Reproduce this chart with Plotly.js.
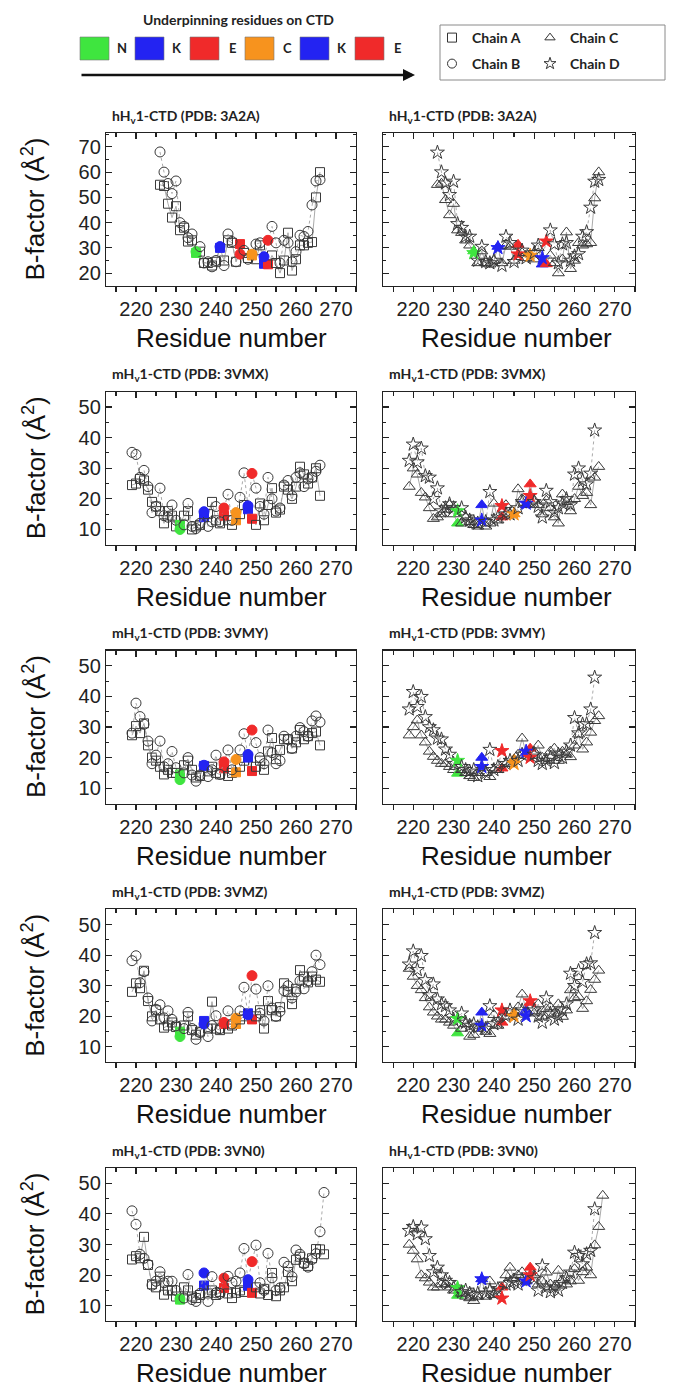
<!DOCTYPE html>
<html><head><meta charset="utf-8">
<script src="https://cdn.plot.ly/plotly-3.0.1.min.js"></script>
<style>html,body{margin:0;padding:0;background:#fff}</style>
</head><body><div id="chart" style="width:681px;height:1387px"></div>
<script>
// ---------- residue numbers ----------
const resH = [226,227,228,229,230,231,232,233,234,235,236,237,238,239,240,241,242,243,244,245,246,247,248,249,250,251,252,253,254,255,256,257,258,259,260,261,262,263,264,265,266];
const resM47 = [219,220,221,222,223,224,225,226,227,228,229,230,231,232,233,234,235,236,237,238,239,240,241,242,243,244,245,246,247,248,249,250,251,252,253,254,255,256,257,258,259,260,261,262,263,264,265];
const resM48 = [219,220,221,222,223,224,225,226,227,228,229,230,231,232,233,234,235,236,237,238,239,240,241,242,243,244,245,246,247,248,249,250,251,252,253,254,255,256,257,258,259,260,261,262,263,264,265,266];
const resM49 = [219,220,221,222,223,224,225,226,227,228,229,230,231,232,233,234,235,236,237,238,239,240,241,242,243,244,245,246,247,248,249,250,251,252,253,254,255,256,257,258,259,260,261,262,263,264,265,266,267];

// ---------- underpinning residues (N K E C K E) ----------
const keyLetters = ['N','K','E','C','K','E'];
const keyColors = ['#3fe53f','#2323f2','#f02a2a','#f7931e','#2323f2','#f02a2a'];
const keyResHuman = [235,241,246,249,252,253];
const keyResMouse = [231,237,242,245,248,249];
const keyRes3VN0 = [231,237,242,248,249];
const keyCol3VN0 = ['#3fe53f','#2323f2','#f02a2a','#2323f2','#f02a2a'];

// ---------- B-factors ----------
const A_3A2A = [55,54.5,47.5,42,46.5,37,38,32.5,33,28,28.5,24,24,23,24.5,30,25,33,32,24.5,31.5,28,26,27,25.5,31,23.7,23.5,27,24,20,25,36,21,25.5,31,31,32,32.3,50,60];
const B_3A2A = [68,60,55.5,51.5,56.5,40,38.5,34,35.5,28.5,30.5,24,24.5,22.5,25,30.5,23,35.5,32.5,24.5,27.5,29,25.5,27.5,31.5,32,26.5,33,38.5,32,24,33,32,24.5,28.5,35,34.5,36.5,47,56.5,57];
const C_3A2A = [55,55.5,49,43,47.5,37,36,33,31,28.7,24,28.7,24,23.5,25,30.5,24,31,30.5,25,31.3,28,26,27.5,25.5,30,23.5,23.6,27,24,20,25.5,36.2,21.7,25,32,31,31.5,32,49.7,60];
const D_3A2A = [67.8,60,55.6,51,56.3,39.5,38,34.5,34.5,28,25,30.5,24.5,24,25,30,23,34.5,32,24.5,27.5,29,26,27,28,31,26,32.6,37,31.5,24,31.5,32,25,26.7,27.6,34.5,36.3,46,56.3,57];

const A_3VMX = [24.5,25,26.5,26,23,19,17.5,16,12,16,14.5,11,11.5,14.5,16,10,11,11.5,14,15,19,13,12,14.5,13,11.5,13,15,18,16.6,13.5,11.5,18.5,13,18,23.5,15.5,16.5,24,23,20,24,30.5,28,25,27,30,21];
const B_3VMX = [35.2,34.5,27,29.3,24,15.5,17.5,23.5,14.5,14,18,13,10,11.5,18.5,11,10.3,12,15.8,11,12.5,17.5,12.5,17,21.5,13,15.5,20.5,28.5,17.7,28.3,23.5,17.5,15,27,20,16,17,24.5,26,21,27,28.5,24,26.5,27,29,31];
const C_3VMX = [24,30,28,22,20.5,17,13.5,14,15,16.5,18,15,12,12,14,12.5,11.5,11,18,11,12,18.5,13,14,18,15,15,23.2,20,18,24.8,19.5,18,15,19.5,17,14,12,21.5,19,16,20,24,21,22,18,27,30.5];
const D_3VMX = [32.5,37.8,32,36.5,27.5,27,20,23.5,16,17,18.3,17,16,17,14,13,12.5,12,13,12.5,22.3,13,14,17.7,15,15,15,17,19,18.5,21,19,17.5,14,22.7,19,15.6,17,18.5,20,18,28,30,26,24.8,28.3,42.4];

const A_3VMY = [27.3,30.3,28,31.2,24,20,19,17,14.5,16,15,15,14.5,17.5,19,16,13.5,14,17.3,15.5,17,15,14.5,16.5,14,15,15.2,17,19,20,15.6,17,19,16,22,26.4,19.5,22.5,26,26,23,25,29,26,27,28,28.5,24];
const B_3VMY = [28,37.8,33.4,30.9,25.4,18,20.8,25.4,17,18,22,16.7,12.8,15,20,14.3,12.3,14.3,17.5,13.8,16,20.8,14.5,18.6,22.5,16,19.4,22.5,27.8,21,29,24.9,20,18,29,21.6,18,19,27,26,23,27,29.8,28.5,27,32,33.6,31.6];
const C_3VMY = [27.3,30,32.2,27.3,25,22,20.3,19,18,18,17,16,14.8,16,15,14,13.4,15,20,15,13.7,16,16,16.5,18,18,19.5,21,26.3,21.5,23,22,24,20,19,22,23,19,22,21,20.2,24,27.6,22.7,25,28.2,32,33.6];
const D_3VMY = [35.8,41.5,36.6,39.9,33.3,30,29,26.3,26,22.7,21,18,19,17,16,15.5,16,14,17,15,22.6,16,17,22.2,18,19,18,19,21,22,20,21,19,18,19,20,18.3,21,20,22,24,33,28,30.9,31,35.8,46.2];

const A_3VMZ = [28,30.8,29.2,34.9,25,20,22,19,16.3,17,18,16.5,15,17,20,15.5,14,15,18.5,16,24.8,16,15.5,17.5,16,17,17.5,19,20,21,19,20,22,16,25,22,20,23,30.8,28,24,29,35.1,33,31.1,33,32,31.3];
const B_3VMZ = [38.2,39.8,31,34.6,26,18.5,22.3,23.8,19.5,21.8,19,16.9,13.4,16,21.3,16,12.5,14.7,17.5,13.4,17,20.2,16,18,21.8,17.5,19.4,21.8,29.5,20.5,33.3,28.9,21,18.5,30,22.7,20,21.6,28.4,30,26,28,31.6,29,31.6,34.6,40,36.9];
const C_3VMZ = [35.6,33,30,28.6,26,23,21.3,20,19,19,18,17,14.5,16,17.5,13.4,14,16,21.3,15,14.3,20.5,17,18,20,21,21,23,27.2,22,24.5,21,24,20,22.4,23,21,24,19.9,22,28.6,26,26.4,22.5,25,28.7,32,35];
const D_3VMZ = [37,41.3,35.2,39.8,31.9,27,30.5,25.6,24,23.4,22,19,19.2,21,18,17,17.5,16.5,17,16,23.4,17.5,18,22,20,22,20,19,22,20.1,25,22,20,18,26,21,19,20,22,24,34,30,34.9,31.3,37.1,37.4,47.3];

const A_3VN0 = [25.1,26.2,25.5,32.5,23.3,17,16,19.5,13.6,15,15,13,12,16,15,13,12.5,13.5,16.6,14,15,13.5,14.5,15.8,14,12.5,14.2,15,14.5,16.5,14.2,16,14,15.5,13.5,20.7,13.1,15,16,21,18,25,26,24,23,25.5,28.5,28.4,26.8];
const B_3VN0 = [41,36.6,26.8,25.5,23.5,16.7,18,21.1,17.5,18,18,15,12.2,12.5,20.2,12,11.4,14,20.7,11.4,19.5,14.2,14,19,19.6,17.5,18,20.7,28.7,18.5,24.4,29.8,17.5,15,27.1,19.1,15,15.8,24.2,22.9,19.5,28.2,26.8,23.7,22.6,25.1,27,34.2,47];
const C_3VN0 = [30,28,25.2,20,19,17.6,16,16,17,17,16,15,13.3,14,13,12.5,11.6,13,18.7,13,18,13.5,14,16,20,22.5,19,20,21,18,22.5,20,17,18,20.9,17,16,21.5,18.5,17,18,22,18.2,21,22.5,20,29.8,35.8,46];
const D_3VN0 = [34.5,35.8,33.4,35.6,31.8,26.3,21,22.5,20,18.2,17.5,16,15.8,14.5,15,14,13.5,14,18.7,14,15,14,15.5,12.4,17,17.5,18,17,18.5,18,20,19,15,23,16,14.5,16,15,17.5,19,20.9,27.4,26.3,23.6,26.9,28,41.6];

// ---------- text ----------
const panelTitles = [
  'hH<sub>v</sub>1-CTD (PDB: 3A2A)','hH<sub>v</sub>1-CTD (PDB: 3A2A)',
  'mH<sub>v</sub>1-CTD (PDB: 3VMX)','mH<sub>v</sub>1-CTD (PDB: 3VMX)',
  'mH<sub>v</sub>1-CTD (PDB: 3VMY)','mH<sub>v</sub>1-CTD (PDB: 3VMY)',
  'mH<sub>v</sub>1-CTD (PDB: 3VMZ)','mH<sub>v</sub>1-CTD (PDB: 3VMZ)',
  'mH<sub>v</sub>1-CTD (PDB: 3VN0)','hH<sub>v</sub>1-CTD (PDB: 3VN0)'];
const chainNames = ['Chain A','Chain B','Chain C','Chain D'];
const xTitle = 'Residue number';
const yTitle = 'B-factor (Å<sup>2</sup>)';
const headerTitle = 'Underpinning residues on CTD';
const xTickVals = [220,230,240,250,260,270];

// ---------- build ----------
const W = 681, H = 1387;
const px = v => v / W, py = v => 1 - v / H;
const colX = [[106,356],[383,635]];
const rowTop = r => 133 + 258.75 * r;
const FH = 153;

const panels = [
  {t1:[resH,A_3A2A,0],t2:[resH,B_3A2A,1],kr:keyResHuman,kc:keyColors},
  {t1:[resH,C_3A2A,2],t2:[resH,D_3A2A,3],kr:keyResHuman,kc:keyColors},
  {t1:[resM48,A_3VMX,0],t2:[resM48,B_3VMX,1],kr:keyResMouse,kc:keyColors},
  {t1:[resM48,C_3VMX,2],t2:[resM47,D_3VMX,3],kr:keyResMouse,kc:keyColors},
  {t1:[resM48,A_3VMY,0],t2:[resM48,B_3VMY,1],kr:keyResMouse,kc:keyColors},
  {t1:[resM48,C_3VMY,2],t2:[resM47,D_3VMY,3],kr:keyResMouse,kc:keyColors},
  {t1:[resM48,A_3VMZ,0],t2:[resM48,B_3VMZ,1],kr:keyResMouse,kc:keyColors},
  {t1:[resM48,C_3VMZ,2],t2:[resM47,D_3VMZ,3],kr:keyResMouse,kc:keyColors},
  {t1:[resM49,A_3VN0,0],t2:[resM49,B_3VN0,1],kr:keyRes3VN0,kc:keyCol3VN0},
  {t1:[resM49,C_3VN0,2],t2:[resM47,D_3VN0,3],kr:keyRes3VN0,kc:keyCol3VN0}
];
const symbols = ['square','circle','triangle-up','star'];
const sizes = [9,10,10.5,10.5];
const dashes = ['solid','dot','solid','dot'];

const data = [];
const layout = {
  width: W, height: H, margin:{l:0,r:0,t:0,b:0},
  paper_bgcolor:'#fff', plot_bgcolor:'#fff',
  font:{family:'Liberation Sans, Arial, sans-serif', color:'#222'},
  showlegend: true, shapes: [], annotations: []
};

function mkTrace(spec, kr, kc, ax, ay) {
  const [xs, ys, ci] = spec;
  const fill = xs.map(r => { const k = kr.indexOf(r); return k >= 0 ? kc[k] : 'rgba(255,255,255,0)'; });
  const edge = xs.map(r => { const k = kr.indexOf(r); return k >= 0 ? kc[k] : '#3a3a3a'; });
  return {type:'scatter', mode:'lines+markers', x: xs, y: ys, xaxis: ax, yaxis: ay,
    showlegend:false, hoverinfo:'x+y',
    line:{color:'#a0a0a0', width:0.9, dash:dashes[ci]},
    marker:{symbol:symbols[ci], size:sizes[ci], color:fill, line:{color:edge, width:1}}};
}

panels.forEach((p, i) => {
  const r = Math.floor(i/2), c = i % 2;
  const n = i + 1;
  const xid = 'x' + n, yid = 'y' + n;
  const top = rowTop(r), bot = top + FH;
  const xr = [212.5, 275];
  const yr = r === 0 ? [14.9, 75.5] : [5, 55];
  const xd = [px(colX[c][0]), px(colX[c][1])];
  const yd = [py(bot), py(top)];
  layout['xaxis'+n] = {domain:xd, anchor:yid, range:xr, showgrid:false, zeroline:false,
    showline:true, linecolor:'#222', linewidth:1.2, mirror:true,
    tickmode:'array', tickvals:xTickVals, ticks:'outside', ticklen:5, tickwidth:1.1, tickcolor:'#222',
    minor:{dtick:5, tick0:215, ticks:'outside', ticklen:5, tickwidth:1.1, tickcolor:'#222'},
    tickfont:{size:20, family:'Liberation Sans, Arial, sans-serif', color:'#222'}};
  layout['xaxis'+(n+10)] = {overlaying:xid, anchor:yid, side:'top', range:xr, showgrid:false,
    zeroline:false, showline:false, showticklabels:false,
    tickmode:'array', tickvals:xTickVals, ticks:'inside', ticklen:6, tickwidth:1.1, tickcolor:'#222',
    minor:{dtick:5, tick0:215, ticks:'inside', ticklen:4, tickwidth:1.1, tickcolor:'#222'}};
  layout['yaxis'+n] = {domain:yd, anchor:xid, range:yr, showgrid:false, zeroline:false,
    showline:true, linecolor:'#222', linewidth:1.2, mirror:'ticks',
    dtick:10, tick0:0, ticks:'inside', ticklen:6, tickwidth:1.1, tickcolor:'#222',
    minor:{dtick:5, ticks:'inside', ticklen:3, tickwidth:1, tickcolor:'#222'},
    showticklabels: c === 0,
    tickfont:{size:20, family:'Liberation Sans, Arial, sans-serif', color:'#222'}};
  data.push(mkTrace(p.t1, p.kr, p.kc, xid, yid));
  data.push(mkTrace(p.t2, p.kr, p.kc, xid, yid));
  data.push({type:'scatter', x:[], y:[], xaxis:'x'+(n+10), yaxis:yid, showlegend:false, hoverinfo:'skip'});

  layout.annotations.push({xref:'paper', yref:'paper', x:px(colX[c][0]+4), y:py(top-17),
    xanchor:'left', yanchor:'middle', showarrow:false, text:'<b>'+panelTitles[i]+'</b>',
    font:{family:'Lato, Open Sans, sans-serif', size:14, color:'#222'}});
  layout.annotations.push({xref:'paper', yref:'paper', x:px(c===0?231:516), y:py(bot+52),
    xanchor:'center', yanchor:'middle', showarrow:false, text:xTitle,
    font:{family:'Liberation Sans, Arial, sans-serif', size:26, color:'#111'}});
  if (c === 0) {
    layout.annotations.push({xref:'paper', yref:'paper', x:px(34), y:py(top+FH/2),
      xanchor:'center', yanchor:'middle', showarrow:false, textangle:-90, text:yTitle,
      font:{family:'Liberation Sans, Arial, sans-serif', size:26, color:'#111'}});
  }
});

// ---------- header: underpinning residues ----------
layout.annotations.push({xref:'paper', yref:'paper', x:px(238), y:py(19), xanchor:'center', yanchor:'middle',
  showarrow:false, text:'<b>'+headerTitle+'</b>', font:{family:'Lato, Open Sans, sans-serif', size:14, color:'#222'}});
keyLetters.forEach((L, k) => {
  const x0 = 80 + k*55;
  layout.shapes.push({type:'rect', xref:'paper', yref:'paper', x0:px(x0), x1:px(x0+29), y0:py(60), y1:py(37),
    fillcolor:keyColors[k], line:{color:'#777', width:0.6}});
  layout.annotations.push({xref:'paper', yref:'paper', x:px(x0+42), y:py(48.5), xanchor:'center', yanchor:'middle',
    showarrow:false, text:'<b>'+L+'</b>', font:{family:'Lato, Open Sans, sans-serif', size:13, color:'#222'}});
});
layout.annotations.push({xref:'paper', yref:'paper', axref:'pixel', ayref:'pixel', x:px(415), y:py(75),
  ax:-335, ay:0, text:'', showarrow:true, arrowhead:2, arrowsize:1, arrowwidth:2.4, arrowcolor:'#111'});

// ---------- header: chain legend ----------
layout.shapes.push({type:'rect', xref:'paper', yref:'paper', x0:px(440), x1:px(665), y0:py(80), y1:py(25),
  line:{color:'#8a8a8a', width:1}, fillcolor:'rgba(0,0,0,0)'});
const legPos = [[432,38],[432,64],[530,38],[530,64]];
chainNames.forEach((nm, k) => {
  const lid = k === 0 ? 'legend' : 'legend' + (k+1);
  data.push({type:'scatter', mode:'markers', x:[null], y:[null], xaxis:'x1', yaxis:'y1',
    name:'<b>'+nm+'</b>', legend:lid, showlegend:true, hoverinfo:'skip',
    marker:{symbol:symbols[k], size:9, color:'rgba(255,255,255,0)', line:{color:'#333', width:1}}});
  layout[lid] = {x:px(legPos[k][0]), y:py(legPos[k][1]), xanchor:'left', yanchor:'middle',
    bgcolor:'rgba(0,0,0,0)', borderwidth:0, itemwidth:30,
    font:{family:'Lato, Open Sans, sans-serif', size:14, color:'#222'}};
});

Plotly.newPlot('chart', data, layout, {staticPlot:true});
</script></body></html>
